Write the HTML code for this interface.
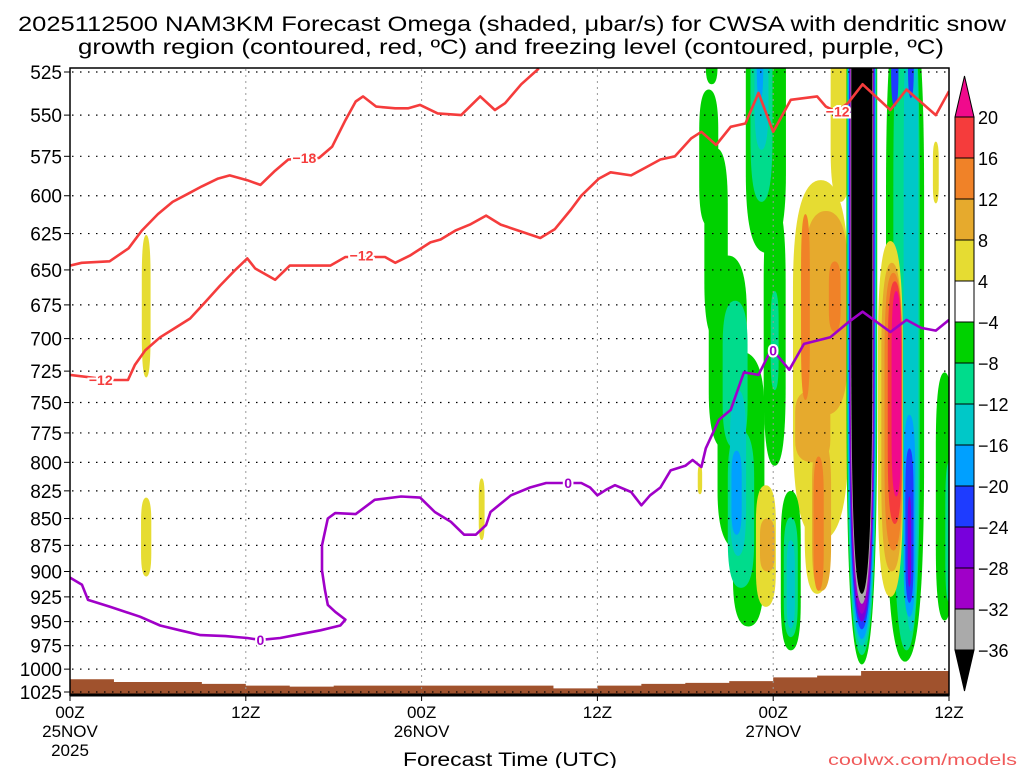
<!DOCTYPE html>
<html><head><meta charset="utf-8"><title>NAM3KM Omega CWSA</title>
<style>html,body{margin:0;padding:0;background:#fff;width:1024px;height:768px;overflow:hidden}svg{display:block}text{font-family:"Liberation Sans",sans-serif}</style>
</head><body>
<svg id="chart" xmlns="http://www.w3.org/2000/svg" width="1024" height="768" viewBox="0 0 1024 768">
<defs><clipPath id="plotclip"><rect x="70" y="68" width="879" height="627"/></clipPath></defs>
<rect width="1024" height="768" fill="#fff"/>
<text x="512" y="31" text-anchor="middle" font-size="21" textLength="988" lengthAdjust="spacingAndGlyphs">2025112500 NAM3KM Forecast Omega (shaded, μbar/s) for CWSA with dendritic snow</text>
<text x="511" y="54" text-anchor="middle" font-size="21" textLength="866" lengthAdjust="spacingAndGlyphs">growth region (contoured, red, ºC) and freezing level (contoured, purple, ºC)</text>
<g id="shade" clip-path="url(#plotclip)"></g>
<g id="ground" clip-path="url(#plotclip)"></g>
<g id="grid"></g>
<g id="lines" clip-path="url(#plotclip)"></g>
<g id="axes"></g>
<g id="cbar"></g>
<text x="510" y="766" text-anchor="middle" font-size="19" textLength="214" lengthAdjust="spacingAndGlyphs">Forecast Time (UTC)</text>
<text x="1017" y="765" text-anchor="end" font-size="16" fill="#f05a5a" textLength="189" lengthAdjust="spacingAndGlyphs">coolwx.com/models</text>
</svg>
<script>
// ---- data ----
const pressureTicks = [525,550,575,600,625,650,675,700,725,750,775,800,825,850,875,900,925,950,975,1000,1025];
const timeTickHours = [0,12,24,36,48,60];
const timeTickLine1 = ["00Z","12Z","00Z","12Z","00Z","12Z"];
const timeTickLine2 = ["25NOV","","26NOV","","27NOV",""];
const timeTickLine3 = ["2025","","","","",""];
const cbarLabels = ["20","16","12","8","4","\u22124","\u22128","\u221212","\u221216","\u221220","\u221224","\u221228","\u221232","\u221236"];
const levelColors = {M:"#f00a8c",R:"#f53c3c",O:"#f08228",LO:"#e6aa2d",Y:"#e6dc32",W:"#ffffff",G:"#00d200",T:"#00dc8c",C:"#00c8c8",LB:"#00a0ff",B:"#1e3cff",P:"#7800dc",V:"#a000c8",GR:"#aaaaaa",K:"#000000"};
const cbarBoxes = ["R","O","LO","Y","W","G","T","C","LB","B","P","V","GR"];

// omega blobs (hour center, half-width hours, top hPa, bottom hPa, level)
const blobHour  = [43.8,43.6,44.1,44.9,45.8,46.3,45.4,45.8,45.6,45.5, 47.5,48.1,47.2,47.2,47.1,48.1, 51.25,51.0,52.6,51.6,50.7,51.3,50.2,52.2,51.1, 47.5,47.6, 49.2,49.2,49.2, 57.0,57.1,57.4,57.4,56.3,57.3,57.3,57.3, 56.0,56.1,56.2,56.3,56.4, 54.05,54.05,54.05,54.05,54.05,54.05,54.05,54.05,54.05, 59.7,60.0,59.1, 5.2,5.2,28.1,43.0];
const blobHalfW = [0.4,0.65,0.8,1.3,1.6,1.05,0.85,0.9,0.55,0.35, 1.37,0.75,0.75,0.48,0.22,0.27, 1.9,0.85,0.68,1.5,1.2,0.65,0.3,0.4,0.35, 0.68,0.5, 0.68,0.48,0.28, 1.3,0.9,0.5,0.2,0.25,0.4,0.28,0.12, 0.85,0.72,0.6,0.48,0.32, 1.05,1.0,0.96,0.92,0.88,0.84,0.8,0.76,0.72, 0.6,0.25,0.2, 0.3,0.35,0.2,0.15];
const blobPTop  = [500,535,570,640,710,800,672,773,740,790, 480,604,480,480,480,665, 590,748,500,610,740,780,612,644,795, 820,850, 825,849,870, 480,480,480,480,480,760,788,830, 630,645,652,658,665, 380,380,380,380,380,380,380,380,380, 726,800,566, 626,831,814,803];
const blobPBot  = [532,620,700,790,880,955,788,916,885,865, 638,803,604,571,541,740, 870,922,604,760,800,919,748,695,919, 935,900, 980,966,957, 992,980,960,540,545,945,931,915, 925,900,880,855,830, 995,985,975,968,958,950,942,932,922, 949,930,605, 730,905,870,828];
const blobLevel = ["G","G","G","G","G","G","T","T","C","LB", "G","G","T","C","LB","T", "Y","Y","Y","LO","LO","LO","O","O","O", "Y","LO", "G","T","C", "G","T","C","B","B","LB","B","P", "Y","LO","O","R","M", "G","T","C","LB","B","P","V","GR","K", "G","T","Y", "Y","Y","Y","Y"];

// surface pressure every 3 h
const groundHours = [0,3,6,9,12,15,18,21,24,27,30,33,36,39,42,45,48,51,54,57,60];
const groundPres  = [1011,1014,1014,1016,1018,1019,1018,1018,1018,1018,1018,1021,1018,1016,1015,1013,1009,1007,1002,1002,1002];

// -18 C contour
const m18Hours = [0,0.8,2.7,4.0,4.9,6.0,7.0,8.0,9.0,10.1,10.9,12.1,13.0,14.0,14.9,17.0,17.9,18.8,19.5,20.0,20.9,22.2,23.1,23.9,25.1,26.7,28.0,29.0,29.7,30.8,32.0];
const m18Pres  = [647,645,644,635,623,612,604,599,594,589,587,590,593,584,577,576,569,553,542,539,545,546,546,544,549,550,539,547,543,532,523];
// -12 C contour
const m12Hours = [0,2.87,3.96,4.44,5.13,6.15,7.18,8.2,9.23,10.25,11.28,12.1,12.64,14.0,15.0,17.77,18.8,21.5,22.2,23.2,24.6,25.3,26.3,27.3,28.4,29.4,32.1,33.1,34.2,34.9,36.1,36.9,38.3,39.3,40.3,41.3,42.4,43.1,44.1,45.1,46.1,47.0,48.0,49.2,51.0,51.6,52.3,53.1,54.1,56.0,57.1,59.1,60];
const m12Pres  = [728,732,732,720,709,699,692,685,673,661,650,642,649,657,647,647,641,641,645,640,631,629,623,619,613,619,628,622,609,600,589,585,587,582,577,575,564,560,568,557,555,537,560,541,539,545,548,543,532,547,535,550,536];
// 0 C contour
const zHours = [0,0.82,1.23,2.73,4.78,6.15,7.5,8.9,10.6,12.1,12.98,14.35,15.7,17.1,18.45,18.8,18.1,17.6,17.4,17.2,17.2,17.6,18.1,19.5,20.8,22.6,23.9,24.9,26.0,26.9,27.7,28.4,28.7,30.1,31.4,32.5,33.5,34.0,34.9,35.5,36.0,36.6,37.2,38.3,39.0,39.6,40.3,41.0,42.0,42.5,43.1,43.4,44.3,45.1,46.0,47.0,47.7,48.0,49.1,50.1,51.9,53.1,54.1,56.0,57.1,58.1,59.1,60];
const zPres  = [906,913,928,935,945,954,959,964,965,967,969,967,963,959,954,948,940,933,918,899,875,850,845,846,833,830,831,844,853,865,865,856,844,829,822,818,818,818,818,822,829,824,820,826,838,829,822,807,803,798,804,788,764,756,726,728,712,709,724,704,699,688,680,695,686,692,694,686];

const labelText  = ["\u221218","\u221212","\u221212","\u221212","0","0","0"];
const labelHours = [16.0,19.9,2.1,52.4,13.0,34.0,48.0];
const labelPres  = [576,640,732,548,969,818,709];
const labelKind  = ["red","red","red","red","purple","purple","purple"];

// ---- axis functions ----
const X0=70, X1=949;
function xOf(h){ return X0 + h*(X1-X0)/60; }
function yOf(p){ return 72 + 926.7*Math.log(p/525); }
const NS="http://www.w3.org/2000/svg";
function mk(tag, attrs, parent){ const e=document.createElementNS(NS,tag); for(const k in attrs) e.setAttribute(k,attrs[k]); parent.appendChild(e); return e; }

// shading (capsule-like shapes with tapered ends)
const shade=document.getElementById('shade');
for(let i=0;i<blobHour.length;i++){
  const c=xOf(blobHour[i]), w=blobHalfW[i]*(X1-X0)/60;
  const yt=yOf(blobPTop[i]), yb=yOf(blobPBot[i]);
  const a=(yb-yt)*0.3;
  const d=`M${c},${yt} Q${c+w},${yt} ${c+w},${yt+a} L${c+w},${yb-a} Q${c+w},${yb} ${c},${yb} Q${c-w},${yb} ${c-w},${yb-a} L${c-w},${yt+a} Q${c-w},${yt} ${c},${yt} Z`;
  const el=mk('path',{d:d,fill:levelColors[blobLevel[i]]},shade);
  
  
}

// ground
const gnd=document.getElementById('ground');
let gd=`M${xOf(0)},700`;
for(let i=0;i<groundHours.length;i++){
  const xa=xOf(groundHours[i]), xb=xOf(i<groundHours.length-1?groundHours[i+1]:60);
  const y=yOf(groundPres[i]);
  gd+=` L${xa},${y} L${xb},${y}`;
}
gd+=` L${xOf(60)},700 Z`;
const gp=mk('path',{d:gd,fill:"#a0522d"},gnd);



// grid
const grid=document.getElementById('grid');
pressureTicks.forEach(p=>{
  const y=yOf(p);
  const l=mk('line',{x1:72,x2:948,y1:y,y2:y,stroke:"#000","stroke-width":1.2,"stroke-dasharray":"1.5 6.5"},grid);
  
  
});
timeTickHours.slice(1,5).forEach(h=>{
  const x=xOf(h);
  const l=mk('line',{x1:x,x2:x,y1:69,y2:695,stroke:"#999","stroke-width":1,"stroke-dasharray":"2 4"},grid);
  
  
});

// contours
const lines=document.getElementById('lines');
function poly(hs,ps,color,name){
  const pts=hs.map((h,i)=>xOf(h).toFixed(1)+','+yOf(ps[i]).toFixed(1)).join(' ');
  const e=mk('polyline',{points:pts,fill:"none",stroke:color,"stroke-width":2.6,"stroke-linejoin":"round"},lines);
  
  
}
poly(m18Hours,m18Pres,"#f53c3c","contour-minus18");
poly(m12Hours,m12Pres,"#f53c3c","contour-minus12");
poly(zHours,zPres,"#a000c8","freezing-level-contour");
for(let i=0;i<labelText.length;i++){
  const col=labelKind[i]==="red"?"#f53c3c":"#a000c8";
  const t=mk('text',{x:xOf(labelHours[i]),y:yOf(labelPres[i])+5,"text-anchor":"middle","font-size":14,"font-weight":"bold",fill:col,stroke:"#fff","stroke-width":4,"paint-order":"stroke"},lines);
  t.textContent=labelText[i];
  
  
}

// axes
const axes=document.getElementById('axes');
const fr=mk('rect',{x:70,y:68,width:879,height:627,fill:"none",stroke:"#000","stroke-width":1.5},axes);


const bl=mk('line',{x1:70,x2:949,y1:695,y2:695,stroke:"#000","stroke-width":3},axes);


pressureTicks.forEach(p=>{
  const y=yOf(p);
  const tk=mk('line',{x1:64,x2:70,y1:y,y2:y,stroke:"#000","stroke-width":1},axes);
  
  
  const t=mk('text',{x:62,y:y+7,"text-anchor":"end","font-size":19},axes);
  t.textContent=p;
  
  
});
timeTickHours.forEach((h,i)=>{
  const x=xOf(h);
  const tk=mk('line',{x1:x,x2:x,y1:695,y2:701,stroke:"#000","stroke-width":1},axes);
  
  
  [timeTickLine1[i],timeTickLine2[i],timeTickLine3[i]].forEach((s,j)=>{
    if(!s) return;
    const t=mk('text',{x:x,y:718+j*19,"text-anchor":"middle","font-size":17},axes);
    t.textContent=s;
    
    
  });
});

// colorbar
const cb=document.getElementById('cbar');
const CB0=955, CB1=974, CBT=117, CBS=41;
const tri1=mk('path',{d:`M${CB0},${CBT} L${(CB0+CB1)/2},${CBT-41} L${CB1},${CBT} Z`,fill:levelColors.M,stroke:"#000","stroke-width":1},cb);


cbarBoxes.forEach((lv,i)=>{
  const r=mk('rect',{x:CB0,y:CBT+i*CBS,width:CB1-CB0,height:CBS,fill:levelColors[lv],stroke:"#000","stroke-width":1},cb);
  
  
});
const yEnd=CBT+cbarBoxes.length*CBS;
const tri2=mk('path',{d:`M${CB0},${yEnd} L${(CB0+CB1)/2},${yEnd+41} L${CB1},${yEnd} Z`,fill:"#000",stroke:"#000","stroke-width":1},cb);


cbarLabels.forEach((s,i)=>{
  const t=mk('text',{x:978,y:CBT+i*CBS+7,"font-size":18},cb);
  t.textContent=s;
  
  
});
</script>
</body></html>
